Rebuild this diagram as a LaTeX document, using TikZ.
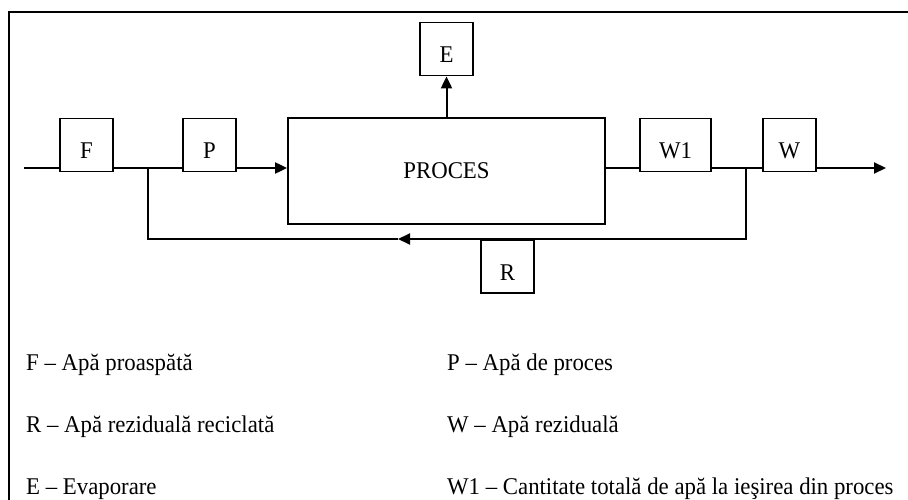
\documentclass[tikz,border=0pt]{standalone}
\usepackage{fontspec}
\setmainfont[FakeStretch=0.95]{Liberation Serif}
\usepackage{tikz}
\usetikzlibrary{arrows.meta}

\tikzset{
    cell/.style={draw, line width=1.8pt, fill=white, inner sep=0pt,
        minimum width=53pt, minimum height=53pt, text height=28pt, text depth=0pt,
        font=\fontsize{24}{28}\selectfont},
    unit/.style={draw, line width=1.8pt, fill=white, inner sep=0pt,
        minimum width=317pt, minimum height=106pt, font=\fontsize{24}{28}\selectfont},
    flow/.style={line width=2pt},
    key/.style={anchor=base west, inner sep=0pt, font=\fontsize{24}{28}\selectfont}
}

\begin{document}
\begin{tikzpicture}[x=1pt, y=-1pt, >={Triangle[length=12pt,width=11pt]}]
        \useasboundingbox (0,0) rectangle (908,500);
        \draw[line width=2pt] (9,500) -- (9,12) -- (908,12);

        \node[cell] (F) at (86.5,145) {F};
        \node[cell] (P) at (209.5,145) {P};
        \node[unit] (proc) at (446.5,171) {PROCES};
        \node[cell] (E) at (446.5,49) {E};
        \node[cell, minimum width=71pt] (W1) at (675.5,145) {W1};
        \node[cell] (W) at (789.5,145) {W};

        \coordinate (in) at (24,168);
        \coordinate (split) at (148,168);
        \coordinate (join) at (746,168);
        \coordinate (out) at (886,168);
        \coordinate (back) at (398,239);

        \draw[flow] (in) -- (in -| F.west);
        \draw[flow] (F.east |- in) -- (in -| P.west);
        \draw[flow, ->] (P.east |- in) -- (in -| proc.west);
        \draw[flow] (proc.east |- in) -- (in -| W1.west);
        \draw[flow] (W1.east |- in) -- (in -| W.west);
        \draw[flow, ->] (W.east |- in) -- (out);
        \draw[flow, ->] (proc.north) -- (E.south);
        \draw[flow, ->] (join) |- (back);
        \draw[flow] (back) -| (split);

        \node[cell, anchor=north] (R) at (507.5,239) {R};

        \node[key] (kF) at (26,370) {F – Apă proaspătă};
        \node[key] (kP) at (447,370) {P – Apă de proces};
        \node[key] (kR) at (26,432) {R – Apă reziduală reciclată};
        \node[key] (kW) at (447,432) {W – Apă reziduală};
        \node[key] (kE) at (26,494) {E – Evaporare};
        \node[key] (kW1) at (447,494) {W1 – Cantitate totală de apă la ieşirea din proces};
\end{tikzpicture}
\end{document}
